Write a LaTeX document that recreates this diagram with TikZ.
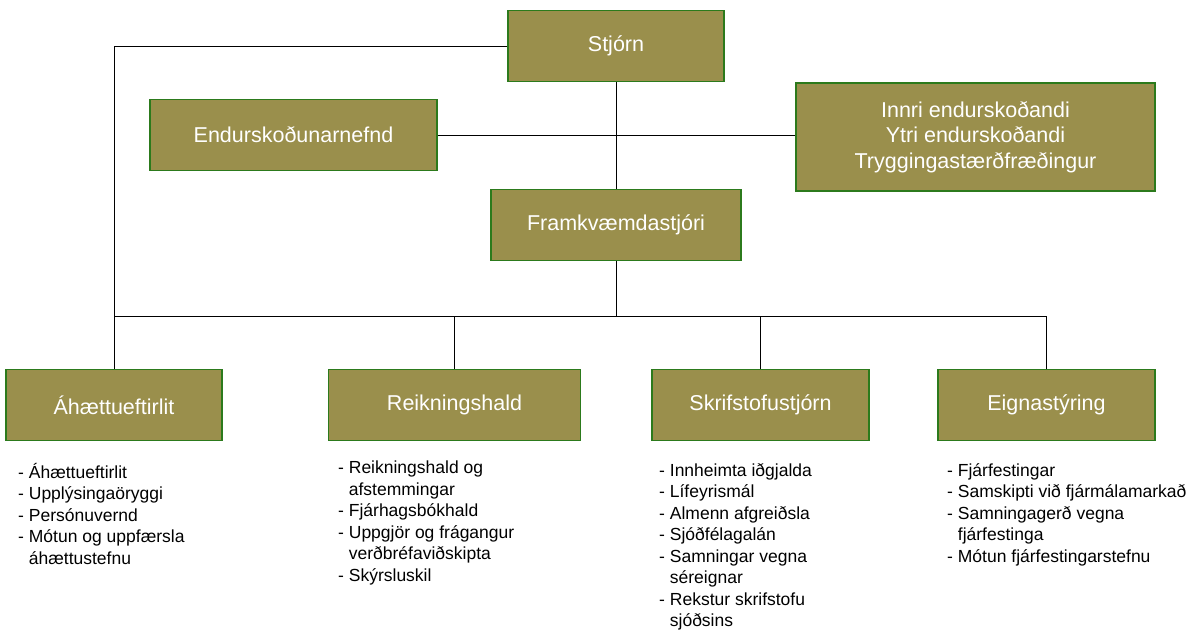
\documentclass[tikz,border=0pt]{standalone}
\usepackage{fontspec}
\setmainfont{Liberation Sans}
\usetikzlibrary{positioning}

\definecolor{boxfill}{HTML}{9A8F4C}
\definecolor{boxline}{HTML}{2C7A1C}

\tikzset{
  unit/.style={draw=boxline, fill=boxfill, line width=1.5pt, text=white,
    font=\fontsize{21.5}{25.5}\selectfont, inner sep=0pt, align=center},
  duty/.style={anchor=north west, align=left, inner sep=0pt,
    font=\fontsize{17.5}{21.5}\selectfont},
  link/.style={line width=1pt}
}

\newcommand{\indentline}{\hphantom{- }}

\begin{document}
\begin{tikzpicture}[x=1pt,y=-1pt]

\useasboundingbox (0,0) rectangle (1198,630);

% top level
\node[unit, minimum width=216, minimum height=71] (stjorn) at (616,46) {Stjórn};
\node[unit, minimum width=287, minimum height=71] (endur) at (293.5,135) {Endurskoðunarnefnd};
\node[unit, minimum width=359, minimum height=108] (innri) at (975.5,137) {Innri endurskoðandi\\Ytri endurskoðandi\\Tryggingastærðfræðingur};
\node[unit, minimum width=250, minimum height=71] (framk) at (616,225) {Framkvæmdastjóri};

% departments
\node[unit, minimum width=216, minimum height=71] (ahaettu) at (114,405) {Áhættueftirlit};
\node[unit, minimum width=252, minimum height=71] (reikn) at (454.5,405) {Reikningshald};
\node[unit, minimum width=217, minimum height=71] (skrif) at (760.5,405) {Skrifstofustjórn};
\node[unit, minimum width=217, minimum height=71] (eign) at (1046.5,405) {Eignastýring};

% connectors
\draw[link] (stjorn.south) -- (framk.north);
\draw[link] (endur.east) -- (endur.east -| innri.west);
\draw[link] (stjorn.west) -| (ahaettu.north);
\draw[link] (framk.south) -- ++(0,55) coordinate (bus);
\draw[link] (ahaettu.north |- bus) -- (eign.north |- bus);
\draw[link] (reikn.north |- bus) -- (reikn.north);
\draw[link] (skrif.north |- bus) -- (skrif.north);
\draw[link] (eign.north |- bus) -- (eign.north);

% task lists
\node[duty] (ahaettulist) at (18,463) {- Áhættueftirlit\\- Upplýsingaöryggi\\- Persónuvernd\\- Mótun og uppfærsla\\\indentline áhættustefnu};
\node[duty] (reiknlist) at (338,461) {- Reikningshald og\\\indentline afstemmingar\\- Fjárhagsbókhald\\- Uppgjör og frágangur\\\indentline verðbréfaviðskipta\\- Skýrsluskil};
\node[duty] (skriflist) at (659,463) {- Innheimta iðgjalda\\- Lífeyrismál\\- Almenn afgreiðsla\\- Sjóðfélagalán\\- Samningar vegna\\\indentline séreignar\\- Rekstur skrifstofu\\\indentline sjóðsins};
\node[duty] (eignlist) at (947,463) {- Fjárfestingar\\- Samskipti við fjármálamarkað\\- Samningagerð vegna\\\indentline fjárfestinga\\- Mótun fjárfestingarstefnu};

\end{tikzpicture}
\end{document}
